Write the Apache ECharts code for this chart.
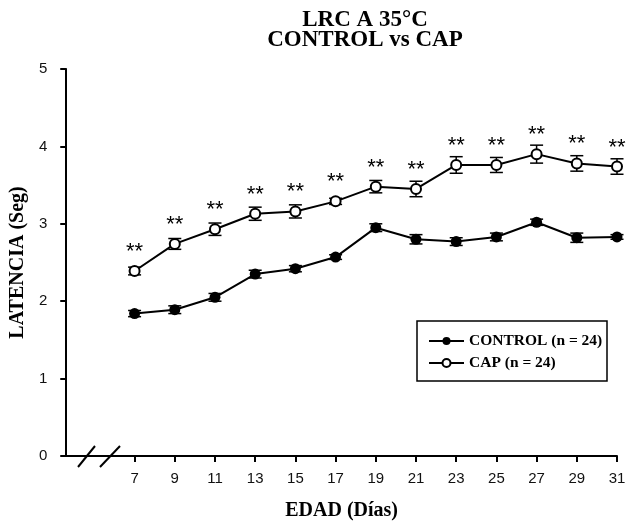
<!DOCTYPE html>
<html>
<head>
<meta charset="utf-8">
<script src="https://cdn.jsdelivr.net/npm/echarts@6/dist/echarts.min.js"></script>
<style>
  html, body { margin: 0; padding: 0; background: #fff; }
  #main { width: 629px; height: 526px; }
</style>
</head>
<body>
<div id="main"></div>
<script>
// edad (dias)
const days = [7, 9, 11, 13, 15, 17, 19, 21, 23, 25, 27, 29, 31];
const controlMean = [1.84, 1.89, 2.05, 2.35, 2.42, 2.57, 2.95, 2.80, 2.77, 2.83, 3.02, 2.82, 2.83];
const controlSem = [0.04, 0.05, 0.05, 0.05, 0.04, 0.03, 0.05, 0.06, 0.05, 0.05, 0.04, 0.06, 0.03];
const capMean = [2.39, 2.74, 2.93, 3.13, 3.16, 3.29, 3.48, 3.45, 3.76, 3.76, 3.90, 3.78, 3.74];
const capSem = [0.05, 0.07, 0.08, 0.085, 0.085, 0.04, 0.08, 0.10, 0.107, 0.097, 0.116, 0.10, 0.10];
const signif = ['**', '**', '**', '**', '**', '**', '**', '**', '**', '**', '**', '**', '**'];
const yTicks = [0, 1, 2, 3, 4, 5];

const serif = '"Liberation Serif", "DejaVu Serif", serif';
const sans = '"Liberation Sans", Arial, sans-serif';

function errData(mean, sem) {
  return days.map((d, i) => [d, mean[i] - sem[i], mean[i] + sem[i]]);
}

function renderErr(params, api) {
  const x = api.value(0);
  const lo = api.coord([x, api.value(1)]);
  const hi = api.coord([x, api.value(2)]);
  const w = 6.5;
  const style = { stroke: '#000', lineWidth: 1.5 };
  return {
    type: 'group',
    children: [
      { type: 'line', shape: { x1: lo[0], y1: lo[1], x2: hi[0], y2: hi[1] }, style },
      { type: 'line', shape: { x1: lo[0] - w, y1: lo[1], x2: lo[0] + w, y2: lo[1] }, style },
      { type: 'line', shape: { x1: hi[0] - w, y1: hi[1], x2: hi[0] + w, y2: hi[1] }, style }
    ]
  };
}

const chart = echarts.init(document.getElementById('main'));

const option = {
  animation: false,
  backgroundColor: '#fff',
  title: {
    text: 'LRC A 35°C\nCONTROL vs CAP',
    left: 360,
    top: 5,
    textAlign: 'center',
    textStyle: { fontFamily: serif, fontWeight: 'bold', fontSize: 23, lineHeight: 20, color: '#000' }
  },
  grid: { left: 62.5, right: 12, top: 69, bottom: 69 },
  legend: {
    orient: 'vertical',
    left: 428,
    top: 333,
    padding: 0,
    itemGap: 6,
    itemWidth: 35,
    itemHeight: 10,
    data: ['CONTROL (n = 24)', 'CAP (n = 24)'],
    textStyle: { fontFamily: serif, fontWeight: 'bold', fontSize: 15.5, color: '#000' }
  },
  xAxis: {
    type: 'value',
    min: 3.6,
    max: 31,
    name: 'EDAD (Días)',
    nameLocation: 'middle',
    nameGap: 45,
    nameTextStyle: { fontFamily: serif, fontWeight: 'bold', fontSize: 20, color: '#000' },
    axisLine: { lineStyle: { color: '#000', width: 2 } },
    axisTick: { customValues: days, length: 6, lineStyle: { color: '#000', width: 2 } },
    axisLabel: { customValues: days, margin: 15, fontFamily: sans, fontSize: 15, color: '#111' },
    splitLine: { show: false }
  },
  yAxis: {
    type: 'value',
    min: 0,
    max: 5,
    interval: 1,
    name: 'LATENCIA (Seg)',
    nameLocation: 'middle',
    nameGap: 37,
    nameTextStyle: { fontFamily: serif, fontWeight: 'bold', fontSize: 20, color: '#000' },
    axisLine: { show: true, lineStyle: { color: '#000', width: 2 } },
    axisTick: { show: true, length: 6, lineStyle: { color: '#000', width: 2 } },
    axisLabel: { margin: 19, fontFamily: sans, fontSize: 15, color: '#111',
      formatter: v => yTicks.includes(v) ? String(v) : '' },
    splitLine: { show: false }
  },
  graphic: [
    { type: 'line', shape: { x1: 78, y1: 467, x2: 95, y2: 446 }, style: { stroke: '#000', lineWidth: 2 }, z: 100 },
    { type: 'line', shape: { x1: 100, y1: 467, x2: 120, y2: 446 }, style: { stroke: '#000', lineWidth: 2 }, z: 100 },
    { type: 'rect', shape: { x: 417, y: 321, width: 190, height: 60 }, style: { fill: 'none', stroke: '#000', lineWidth: 1.5 }, z: 100 }
  ],
  series: [
    {
      type: 'custom',
      renderItem: renderErr,
      data: errData(controlMean, controlSem),
      z: 1,
      silent: true
    },
    {
      type: 'custom',
      renderItem: renderErr,
      data: errData(capMean, capSem),
      z: 1,
      silent: true
    },
    {
      name: 'CONTROL (n = 24)',
      type: 'line',
      data: days.map((d, i) => [d, controlMean[i]]),
      symbol: 'circle',
      symbolSize: 11,
      lineStyle: { color: '#000', width: 2 },
      itemStyle: { color: '#000', borderColor: '#000', borderWidth: 0 },
      z: 3
    },
    {
      name: 'CAP (n = 24)',
      type: 'line',
      data: days.map((d, i) => [d, capMean[i]]),
      symbol: 'circle',
      symbolSize: 10,
      lineStyle: { color: '#000', width: 2 },
      itemStyle: { color: '#fff', borderColor: '#000', borderWidth: 2 },
      label: {
        show: true,
        position: 'top',
        distance: 2,
        formatter: p => signif[p.dataIndex],
        fontFamily: sans,
        fontSize: 22,
        color: '#000'
      },
      z: 3
    }
  ]
};

chart.setOption(option);
</script>
</body>
</html>
